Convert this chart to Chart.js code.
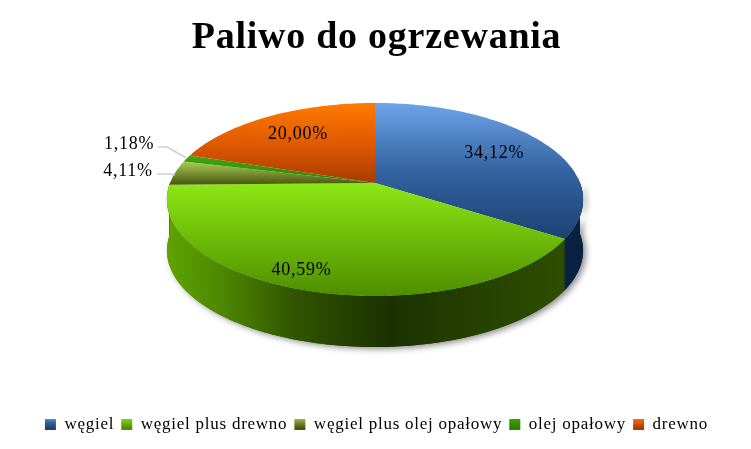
<!DOCTYPE html>
<html>
<head>
<meta charset="utf-8">
<style>
	html, body { margin: 0; padding: 0; background: #fff; }
	canvas { display: block; }
</style>
<script src="https://cdn.jsdelivr.net/npm/chart.js@4"></script>
</head>
<body>
<canvas id="paliwo" width="751" height="449"></canvas>
<script>
var categories = ['węgiel', 'węgiel plus drewno', 'węgiel plus olej opałowy', 'olej opałowy', 'drewno'];
var shares = [34.12, 40.59, 4.11, 1.18, 20.00];

var top_colors = ['#6ea3ea', '#8ce814', '#a9cc55', '#3fa80c', '#ff7a00'];
var mid_colors = ['#33639f', '#6cba08', '#7a9132', '#369406', '#e05a00'];
var bottom_colors = ['#1c4272', '#4f8e00', '#47560f', '#2d8000', '#a83a00'];
var wall_colors = ['#0a2242', '#2b4a00', '#3c4a10', '#245c00', '#7a2a00'];

// pie geometry, the camera looks down at it so the near half is bigger
var cx = 375, cy = 183, rx = 205, ry = 93.7, persp = 0.171, depth = 51;

function project(angle, f) {
	var u = Math.cos(angle) * f;
	var v = Math.sin(angle) * f;
	var d = 1 - persp * v;
	return { x: cx + rx * u / d, y: cy + ry * v / d };
}

function trace_rim(ctx, start, end, dy, first) {
	var steps = Math.max(2, Math.ceil(Math.abs(end - start) / 0.02));
	for (var i = 0; i <= steps; i++) {
		var p = project(start + (end - start) * i / steps, 1);
		if (i == 0 && first) {
			ctx.moveTo(p.x, p.y + dy);
		} else {
			ctx.lineTo(p.x, p.y + dy);
		}
	}
}

function slice_gradient(ctx, y0, y1, i) {
	var g = ctx.createLinearGradient(0, y0, 0, y1);
	g.addColorStop(0, top_colors[i]);
	g.addColorStop(0.5, mid_colors[i]);
	g.addColorStop(1, bottom_colors[i]);
	return g;
}

function green_wall(ctx) {
	var g = ctx.createLinearGradient(cx - 208, 0, cx + 195, 0);
	g.addColorStop(0, '#5fa300');
	g.addColorStop(0.14, '#4d8600');
	g.addColorStop(0.32, '#2f5400');
	g.addColorStop(0.55, '#1b3200');
	g.addColorStop(0.98, '#2f4e00');
	g.addColorStop(1, wall_colors[0]);
	return g;
}

function percent_text(v) {
	return v.toFixed(2).replace('.', ',') + '%';
}

var pie3d = {
	id: 'pie3d',
	beforeLayout: function(chart) {
		chart.ctx.letterSpacing = '0.75px';
	},
	beforeDraw: function(chart) {
		chart.ctx.letterSpacing = '0.75px';
	},
	beforeDatasetsDraw: function(chart) {
		var ctx = chart.ctx;
		var arcs = chart.getDatasetMeta(0).data;
		var i, arc;

		ctx.save();

		// shadow under the whole disc
		ctx.save();
		ctx.shadowColor = 'rgba(0,0,0,0.45)';
		ctx.shadowBlur = 6;
		ctx.shadowOffsetX = 3;
		ctx.shadowOffsetY = 2;
		ctx.fillStyle = green_wall(ctx);
		ctx.beginPath();
		trace_rim(ctx, 0, Math.PI, depth, true);
		trace_rim(ctx, Math.PI, 0, 0, false);
		ctx.closePath();
		ctx.fill();
		ctx.restore();

		// side wall, only the near half can be seen
		for (i = 0; i < arcs.length; i++) {
			arc = arcs[i];
			var a0 = Math.max(arc.startAngle, -0.05);
			var a1 = Math.min(arc.endAngle, Math.PI);
			if (a1 <= a0) {
				continue;
			}
			ctx.fillStyle = (i == 1) ? green_wall(ctx) : wall_colors[i];
			ctx.beginPath();
			trace_rim(ctx, a0, a1, 0, true);
			trace_rim(ctx, a1, a0, depth, false);
			ctx.closePath();
			ctx.fill();
		}

		// top face
		for (i = 0; i < arcs.length; i++) {
			arc = arcs[i];
			var min_y = cy, max_y = cy;
			for (var t = 0; t <= 40; t++) {
				var q = project(arc.startAngle + (arc.endAngle - arc.startAngle) * t / 40, 1);
				min_y = Math.min(min_y, q.y);
				max_y = Math.max(max_y, q.y);
			}
			ctx.fillStyle = slice_gradient(ctx, min_y, max_y, i);
			ctx.beginPath();
			ctx.moveTo(cx, cy);
			trace_rim(ctx, arc.startAngle, arc.endAngle, 0, false);
			ctx.closePath();
			ctx.fill();
		}

		// leader lines of the two thin slices
		ctx.strokeStyle = '#cfcfcf';
		ctx.lineWidth = 1.5;
		var tip = project((arcs[2].startAngle + arcs[2].endAngle) / 2, 1);
		ctx.beginPath();
		ctx.moveTo(157, 174);
		ctx.lineTo(tip.x - 5, 174);
		ctx.lineTo(tip.x, tip.y + 2);
		ctx.stroke();
		tip = project((arcs[3].startAngle + arcs[3].endAngle) / 2, 1);
		ctx.beginPath();
		ctx.moveTo(158, 147);
		ctx.lineTo(167, 147);
		ctx.lineTo(tip.x - 1, tip.y - 1);
		ctx.stroke();

		// value labels
		ctx.fillStyle = '#000';
		ctx.font = '18px "Liberation Serif"';
		ctx.textAlign = 'center';
		ctx.textBaseline = 'middle';
		for (i = 0; i < arcs.length; i++) {
			var mid = (arcs[i].startAngle + arcs[i].endAngle) / 2;
			var pos = project(mid, 0.7);
			if (i == 1) {
				pos.x -= 29;
				pos.y += 16;
			}
			if (i == 2) {
				pos = { x: 128, y: 171 };
			}
			if (i == 3) {
				pos = { x: 129, y: 144 };
			}
			ctx.fillText(percent_text(shares[i]), pos.x, pos.y);
		}

		ctx.restore();
		return false;
	}
};

var paliwo_ctx = document.getElementById('paliwo').getContext('2d');

var chart = new Chart(paliwo_ctx, {
	type: 'pie',
	data: {
		labels: categories,
		datasets: [{
			data: shares,
			backgroundColor: top_colors,
			borderWidth: 0
		}]
	},
	options: {
		responsive: false,
		animation: false,
		layout: { padding: { top: 11, bottom: 6, left: 2 } },
		plugins: {
			title: {
				display: true,
				text: 'Paliwo do ogrzewania',
				color: '#000',
				font: { family: '"Liberation Serif"', size: 38, weight: 'bold' },
				padding: { top: 4, bottom: 10 }
			},
			tooltip: { enabled: false },
			legend: {
				position: 'bottom',
				labels: {
					color: '#000',
					font: { family: '"Liberation Serif"', size: 17 },
					boxWidth: 11,
					boxHeight: 11,
					padding: 7,
					generateLabels: function(chart) {
						return categories.map(function(name, i) {
							return {
								text: name,
								fillStyle: slice_gradient(chart.ctx, 417, 428, i),
								strokeStyle: 'transparent',
								lineWidth: 0,
								index: i
							};
						});
					}
				}
			}
		}
	},
	plugins: [pie3d]
});
</script>
</body>
</html>
